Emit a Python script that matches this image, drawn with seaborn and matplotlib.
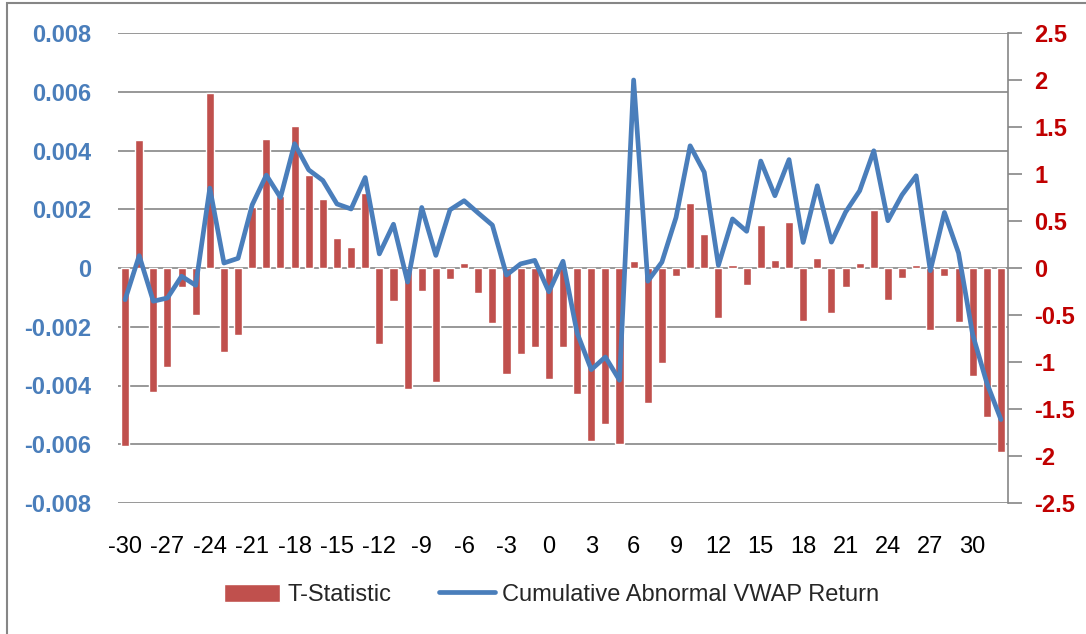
import numpy as np
import matplotlib
matplotlib.use("Agg")
import matplotlib.pyplot as plt
from matplotlib.ticker import FixedLocator
from matplotlib.patches import Rectangle
import seaborn as sns

# event days
days = list(range(-30, 33))

# T-statistic (right axis, bars)
t_stat = [-1.89, 1.36, -1.32, -1.05, -0.20, -0.50, 1.86, -0.89, -0.71, 0.65,
          1.37, 0.77, 1.51, 0.99, 0.73, 0.32, 0.22, 0.80, -0.81, -0.35,
          -1.29, -0.24, -1.21, -0.12, 0.05, -0.27, -0.58, -1.13, -0.92, -0.84,
          -1.18, -0.84, -1.34, -1.84, -1.66, -1.87, 0.07, -1.44, -1.01, -0.09,
          0.69, 0.36, -0.53, 0.03, -0.18, 0.46, 0.08, 0.49, -0.56, 0.11,
          -0.48, -0.20, 0.05, 0.62, -0.34, -0.11, 0.03, -0.66, -0.08, -0.57,
          -1.15, -1.58, -1.96]

# cumulative abnormal VWAP return (left axis, line)
car = [-0.00108, 0.00042, -0.00113, -0.00102, -0.00028, -0.00059, 0.00272, 0.00017, 0.00033, 0.00215,
       0.00316, 0.00240, 0.00423, 0.00334, 0.00298, 0.00218, 0.00201, 0.00308, 0.00048, 0.00149,
       -0.00048, 0.00206, 0.00043, 0.00198, 0.00229, 0.00187, 0.00146, -0.00024, 0.00014, 0.00026,
       -0.00081, 0.00023, -0.00221, -0.00346, -0.00303, -0.00382, 0.00640, -0.00045, 0.00020, 0.00172,
       0.00416, 0.00326, 0.00009, 0.00167, 0.00125, 0.00364, 0.00246, 0.00369, 0.00087, 0.00280,
       0.00088, 0.00190, 0.00263, 0.00399, 0.00161, 0.00249, 0.00314, -0.00009, 0.00189, 0.00051,
       -0.00227, -0.00391, -0.00516]

x_ticks = list(range(-30, 31, 3))
left_ticks = [-0.008, -0.006, -0.004, -0.002, 0, 0.002, 0.004, 0.006, 0.008]
left_labels = ['-0.008', '-0.006', '-0.004', '-0.002', '0', '0.002', '0.004', '0.006', '0.008']
right_ticks = [-2.5, -2, -1.5, -1, -0.5, 0, 0.5, 1, 1.5, 2, 2.5]
right_labels = ['-2.5', '-2', '-1.5', '-1', '-0.5', '0', '0.5', '1', '1.5', '2', '2.5']

bar_color = '#C0504D'
line_color = '#4A7EBB'
grid_color = '#868686'

sns.set_theme(style="white")
plt.rcParams['font.family'] = ['Liberation Sans Narrow', 'Liberation Sans', 'DejaVu Sans']

fig, ax = plt.subplots(figsize=(10.86, 6.34), dpi=100)
fig.subplots_adjust(left=118 / 1086, right=1008 / 1086, bottom=131 / 634, top=601 / 634)

# bars on the right-hand scale
sns.barplot(x=days, y=t_stat, native_scale=True, width=0.57, color=bar_color,
            saturation=1, label='T-Statistic', ax=ax)

# line on the left-hand scale
ax2 = ax.twinx()
sns.lineplot(x=days, y=car, color=line_color, linewidth=3.4, ax=ax2,
             label='Cumulative Abnormal VWAP Return')
for l in ax2.lines:
    l.set_solid_joinstyle('round')
    l.set_solid_capstyle('round')

# bar axis: ticks on the right (twinx resets them to the left, so do it after)
ax.set_xlim(-30.5, 32.5)
ax.set_ylim(-2.5, 2.5)
ax.yaxis.set_ticks_position('right')
ax.set_yticks(right_ticks)
ax.set_yticklabels(right_labels, fontweight='bold')
ax.tick_params(axis='y', which='major', left=False, right=True, labelleft=False,
               labelright=True, length=10, width=1.2, color=grid_color,
               labelcolor='#C00000', labelsize=17, pad=9)

# gridlines follow the left-hand scale, drawn behind the bars
ax.yaxis.remove_overlapping_locs = False
ax.yaxis.set_minor_locator(FixedLocator(np.linspace(-2.5, 2.5, 9)))
ax.grid(False)
ax.grid(which='minor', axis='y', color=grid_color, linewidth=1.2)
ax.tick_params(axis='y', which='minor', left=False, right=False, length=0)
ax.set_axisbelow(True)

ax.set_xticks(x_ticks)
ax.set_xticklabels([str(v) for v in x_ticks])
ax.tick_params(axis='x', length=0, labelsize=17, labelcolor='black', pad=24)
ax.set_xlabel('')
ax.set_ylabel('')

for side in ['left', 'top', 'bottom']:
    ax.spines[side].set_visible(False)
ax.spines['right'].set_color(grid_color)
ax.spines['right'].set_linewidth(1.2)

# line axis: ticks on the left
ax2.set_ylim(-0.008, 0.008)
ax2.yaxis.set_ticks_position('left')
ax2.set_yticks(left_ticks)
ax2.set_yticklabels(left_labels, fontweight='bold')
ax2.tick_params(axis='y', left=True, right=False, labelleft=True, labelright=False,
                length=0, labelcolor=line_color, labelsize=17, pad=19)
ax2.set_ylabel('')
ax2.grid(False)
for side in ['left', 'top', 'bottom', 'right']:
    ax2.spines[side].set_visible(False)

handles, labels = [], []
for a in (ax, ax2):
    h, lb = a.get_legend_handles_labels()
    handles += h
    labels += lb
    if a.get_legend() is not None:
        a.get_legend().remove()

fig.legend(handles, labels, loc='center', bbox_to_anchor=(0.508, 0.062), ncol=2,
           frameon=False, fontsize=17, handlelength=2.4, handleheight=0.8,
           handletextpad=0.3, columnspacing=2.0)

# chart area border (left and top edges are visible in the original crop)
fig.patches.append(Rectangle((7 / 1086, -0.5), 1.2, 0.5 + 1 - 3 / 634,
                             transform=fig.transFigure, fill=False,
                             edgecolor=grid_color, linewidth=1.5))

fig.savefig('out.png', dpi=100)
